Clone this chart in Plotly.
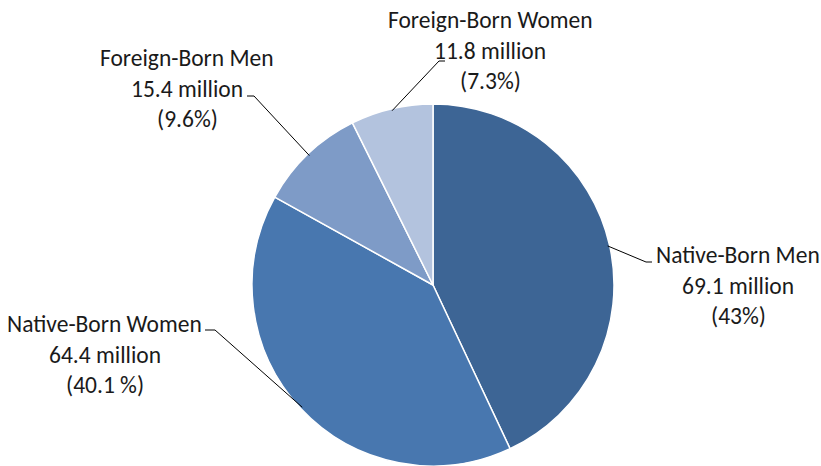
import math
import plotly.graph_objects as go

# ---- data ----
categories = ["Native-Born Men", "Native-Born Women", "Foreign-Born Men", "Foreign-Born Women"]
values_millions = [69.1, 64.4, 15.4, 11.8]
value_labels = ["69.1 million", "64.4 million", "15.4 million", "11.8 million"]
percent_labels = ["(43%)", "(40.1 %)", "(9.6%)", "(7.3%)"]
colors = ["#3D6595", "#4877AF", "#7E9BC7", "#B3C3DE"]

W, H = 821, 466
CX, CY, R = 433, 285, 181

# label layout (pixel positions): text centre x, first line y, elbow, leader end
label_layout = [
    dict(tx=738, ty=255, elbow=(646, 262), end=(652, 262)),
    dict(tx=105, ty=324, elbow=(215, 330), end=(205, 330)),
    dict(tx=187, ty=58, elbow=(254, 96), end=(247, 96)),
    dict(tx=490, ty=20, elbow=(439, 61), end=(445, 61)),
]
LINE_STEP = 30.5
FONT = dict(family="Calibri, Carlito, Lato, sans-serif", size=23.5, color="#1a1a1a")


def px(x):
    return x / W


def py(y):
    return 1 - y / H


fig = go.Figure(go.Pie(
    labels=categories,
    values=values_millions,
    sort=False,
    direction="clockwise",
    rotation=0,
    marker=dict(colors=colors, line=dict(color="white", width=1.5)),
    textinfo="none",
    hoverinfo="label+value+percent",
    domain=dict(x=[px(CX - R), px(CX + R)], y=[py(CY + R), py(CY - R)]),
    showlegend=False,
))

total = sum(values_millions)
cum = 0.0
shapes = []
annotations = []
for i, cat in enumerate(categories):
    frac_mid = (cum + values_millions[i] / 2) / total
    cum += values_millions[i]
    ang = 2 * math.pi * frac_mid
    sx = CX + (R - 2) * math.sin(ang)
    sy = CY - (R - 2) * math.cos(ang)
    lay = label_layout[i]
    ex, ey = lay["elbow"]
    fx, fy = lay["end"]
    path = f"M {px(sx)},{py(sy)} L {px(ex)},{py(ey)} L {px(fx)},{py(fy)}"
    shapes.append(dict(type="path", xref="paper", yref="paper", path=path,
                       line=dict(color="#000000", width=1)))
    for j, txt in enumerate([cat, value_labels[i], percent_labels[i]]):
        annotations.append(dict(
            x=px(lay["tx"]), y=py(lay["ty"] + j * LINE_STEP),
            xref="paper", yref="paper", text=txt, showarrow=False,
            xanchor="center", yanchor="middle", font=FONT,
        ))

fig.update_layout(
    width=W, height=H,
    margin=dict(l=0, r=0, t=0, b=0),
    paper_bgcolor="white",
    plot_bgcolor="white",
    shapes=shapes,
    annotations=annotations,
)

fig.write_html(
    "out.html",
    config={"displayModeBar": False},
    post_script="document.body.style.margin='0';document.body.style.overflow='hidden';",
)
